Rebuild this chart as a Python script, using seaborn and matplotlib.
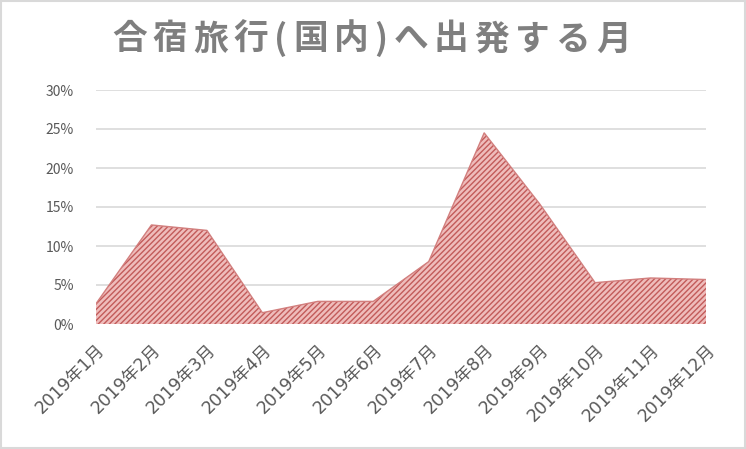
import numpy as np
import pandas as pd
import matplotlib
matplotlib.use("Agg")
import matplotlib.pyplot as plt
import seaborn as sns
from matplotlib.ticker import PercentFormatter

# Data
months = ["2019年1月", "2019年2月", "2019年3月", "2019年4月", "2019年5月", "2019年6月",
          "2019年7月", "2019年8月", "2019年9月", "2019年10月", "2019年11月", "2019年12月"]
share = [2.6, 12.7, 12.0, 1.45, 2.9, 2.9, 8.0, 24.5, 15.4, 5.3, 5.9, 5.7]
y_ticks = [0, 5, 10, 15, 20, 25, 30]
title = "合宿旅行(国内)へ出発する月"

df = pd.DataFrame({"month": months, "share": share})
df["pos"] = range(len(df))

sns.set_theme(style="white")
plt.rcParams["font.family"] = ["Noto Sans CJK JP", "DejaVu Sans"]
plt.rcParams["hatch.linewidth"] = 1.0

W, H = 746, 449
fig = plt.figure(figsize=(W / 100, H / 100), dpi=100)
ax = fig.add_axes([96 / W, 1 - 324 / H, 610 / W, 234 / H])

# filled area with hatch
ax.fill_between(df["pos"], df["share"], 0, facecolor="#efbcbb", edgecolor="#c25b5a",
                hatch="//////", linewidth=0, zorder=2)
sns.lineplot(data=df, x="pos", y="share", ax=ax, color="#d27f7e", linewidth=1.0, zorder=3)

ax.set_xlim(0, len(df) - 1)
ax.set_ylim(0, 30)
ax.set_yticks(y_ticks)
ax.yaxis.set_major_formatter(PercentFormatter(decimals=0))
ax.set_xticks(df["pos"])
ax.set_xticklabels(df["month"], rotation=45, ha="right", rotation_mode="anchor",
                   family=["DejaVu Sans", "Noto Sans CJK JP"])
ax.grid(axis="y", color="#d9d9d9", linewidth=1.2, zorder=0)
ax.set_axisbelow(True)
for s in ax.spines.values():
    s.set_visible(False)
ax.tick_params(axis="y", labelsize=10, colors="#595959", pad=16, length=0)
ax.tick_params(axis="x", labelsize=12.5, colors="#595959", pad=12, length=0)
ax.set_xlabel("")
ax.set_ylabel("")

# title with letter spacing: lay characters out one by one
renderer = fig.canvas.get_renderer()
tkw = dict(fontsize=25, fontweight="bold", color="#7f7f7f", va="center", ha="left")
chars = list(title)
widths = []
for c in chars:
    t = fig.text(0, 0, c, **tkw)
    widths.append(t.get_window_extent(renderer).width)
    t.remove()
x0, x1 = 112, 631
gap = (x1 - x0 - sum(widths)) / (len(chars) - 1)
x = x0
for c, w in zip(chars, widths):
    fig.text(x / W, 1 - 39 / H, c, **tkw)
    x += w + gap

# outer border
fig.patches.append(plt.Rectangle((0.002, 0.003), 0.996, 0.994, transform=fig.transFigure,
                                 fill=False, edgecolor="#d9d9d9", linewidth=1.5))

fig.savefig("out.png", dpi=100)
